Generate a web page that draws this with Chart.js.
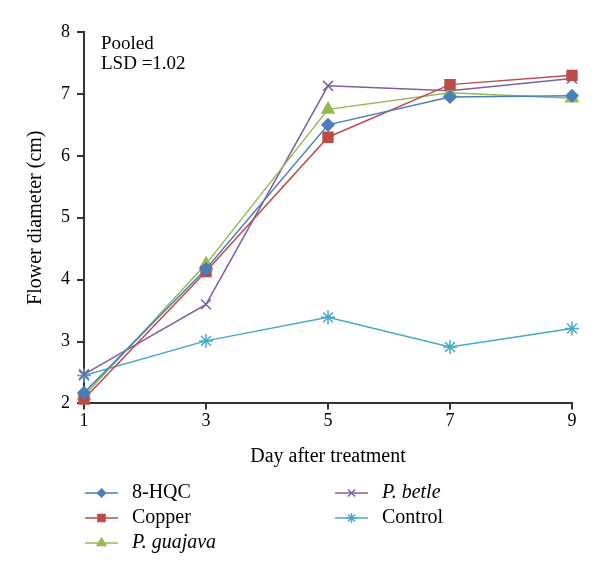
<!DOCTYPE html>
<html>
<head>
<meta charset="utf-8">
<script src="https://cdn.jsdelivr.net/npm/chart.js@4"></script>
<style>
  html, body { margin: 0; padding: 0; background: #fff; }
  #wrap { width: 600px; height: 575px; }
</style>
</head>
<body>
<div id="wrap"><canvas id="flowerChart" width="600" height="575"></canvas></div>
<script>
const days = [1, 3, 5, 7, 9];
const hqc = [2.17, 4.17, 6.5, 6.95, 6.97];
const copper = [2.07, 4.13, 6.3, 7.15, 7.3];
const guajava = [2.12, 4.25, 6.75, 7.02, 6.93];
const betle = [2.47, 3.6, 7.13, 7.05, 7.25];
const control = [2.45, 3.01, 3.39, 2.91, 3.21];
const yTicks = [2, 3, 4, 5, 6, 7, 8];

const FONT = "'Liberation Serif', 'DejaVu Serif', serif";

const series = [
    { label: "8-HQC", data: hqc, color: "#4a7ebb", style: "rectRot", radius: 6, italic: false },
    { label: "Copper", data: copper, color: "#be4b48", style: "rect", radius: 7, italic: false },
    { label: "P. guajava", data: guajava, color: "#98b954", style: "triangle", radius: 7, italic: true },
    { label: "P. betle", data: betle, color: "#7d60a0", style: "crossRot", radius: 7, italic: true },
    { label: "Control", data: control, color: "#46aac5", style: "star", radius: 7, italic: false },
];

const toPoints = (vals) => vals.map((v, i) => ({ x: days[i], y: v }));

const datasets = series.map((s) => ({
    label: s.label,
    data: toPoints(s.data),
    borderColor: s.color,
    backgroundColor: s.color,
    borderWidth: 1.5,
    pointStyle: s.style,
    pointRadius: s.radius,
    pointBorderColor: s.color,
    pointBackgroundColor: s.color,
    pointBorderWidth: 1.5,
    tension: 0,
    clip: false,
}));

// legend below the chart + "Pooled / LSD" note
const extras = {
    id: "extras",
    afterDraw(chart) {
        const ctx = chart.ctx;
        const area = chart.chartArea;
        ctx.save();
        ctx.fillStyle = "#000";
        ctx.font = "19px " + FONT;
        ctx.textBaseline = "middle";
        ctx.textAlign = "left";
        ctx.fillText("Pooled", area.left + 17, area.top + 12);
        ctx.fillText("LSD =1.02", area.left + 17, area.top + 32);

        const cols = [85, 335];
        const rows = [493, 518, 543];
        series.forEach((s, i) => {
            const col = i < 3 ? 0 : 1;
            const row = i < 3 ? i : i - 3;
            const x = cols[col];
            const y = rows[row];
            ctx.strokeStyle = s.color;
            ctx.lineWidth = 1.5;
            ctx.beginPath();
            ctx.moveTo(x, y);
            ctx.lineTo(x + 33, y);
            ctx.stroke();
            ctx.fillStyle = s.color;
            Chart.helpers.drawPoint(ctx, {
                pointStyle: s.style,
                radius: s.radius - 2,
                rotation: 0,
                borderWidth: 1.5,
            }, x + 16.5, y);
            ctx.fillStyle = "#000";
            ctx.font = (s.italic ? "italic " : "") + "20px " + FONT;
            ctx.fillText(s.label, x + 47, y);
        });
        ctx.restore();
    },
};

new Chart(document.getElementById("flowerChart").getContext("2d"), {
    type: "line",
    data: { datasets: datasets },
    options: {
        responsive: false,
        animation: false,
        layout: { padding: { top: 32, right: 28, bottom: 102, left: 20 } },
        plugins: {
            legend: { display: false },
            tooltip: { enabled: false },
        },
        scales: {
            x: {
                type: "linear",
                min: 1,
                max: 9,
                afterBuildTicks: (axis) => { axis.ticks = days.map((d) => ({ value: d })); },
                border: { color: "#333", width: 2 },
                grid: { drawOnChartArea: false, tickLength: 6, color: "#333", lineWidth: 2 },
                ticks: { color: "#000", font: { family: FONT, size: 18 }, padding: 1 },
                title: { display: true, text: "Day after treatment", color: "#000", font: { family: FONT, size: 20 }, padding: { top: 12 } },
            },
            y: {
                min: 2,
                max: 8,
                afterBuildTicks: (axis) => { axis.ticks = yTicks.map((v) => ({ value: v })); },
                border: { color: "#333", width: 2 },
                grid: { drawOnChartArea: false, tickLength: 7, color: "#333", lineWidth: 2 },
                ticks: { color: "#000", font: { family: FONT, size: 18 }, padding: 7 },
                title: { display: true, text: "Flower diameter (cm)", color: "#000", font: { family: FONT, size: 20 }, padding: { bottom: 6 } },
            },
        },
    },
    plugins: [extras],
});
</script>
</body>
</html>
